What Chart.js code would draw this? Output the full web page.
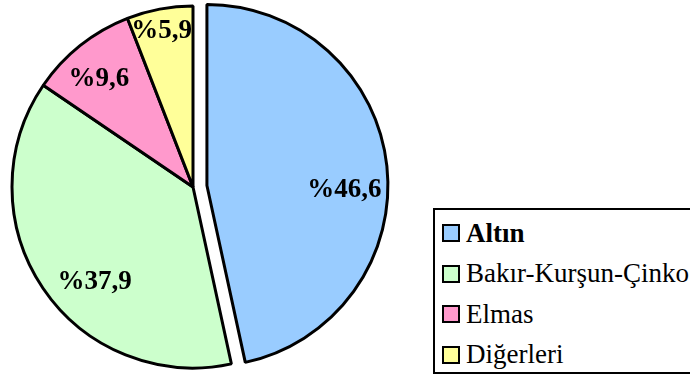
<!DOCTYPE html>
<html lang="tr">
<head>
<meta charset="utf-8">
<script src="https://cdn.jsdelivr.net/npm/chart.js@4.4.1/dist/chart.umd.min.js"></script>
<style>
  html, body { margin: 0; padding: 0; background: #fff; overflow: hidden; }
  #wrap { position: relative; width: 690px; height: 374px; overflow: hidden; }
  #pie { position: absolute; left: 0; top: 0; }
  #legend {
    position: absolute; left: 433px; top: 208px; width: 280px; height: 162px;
    border: 2px solid #000; box-sizing: content-box; background: #fff;
    font-family: "Liberation Serif", "Times New Roman", serif; font-size: 27px; color: #000;
  }
  #legend .row { position: absolute; left: 0; height: 40px; display: flex; align-items: center; white-space: nowrap; }
  #legend .box { width: 14px; height: 14px; border: 2px solid #000; margin-left: 7px; margin-right: 6px; flex: none; }
</style>
</head>
<body>
<div id="wrap">
  <canvas id="pie" width="690" height="374"></canvas>
  <div id="legend"></div>
</div>
<script>
// Maden üretim payları (%)
const categories = ['Altın', 'Bakır-Kurşun-Çinko', 'Elmas', 'Diğerleri'];
const shares = [46.6, 37.9, 9.6, 5.9];
const sliceColors = ['#99CCFF', '#CCFFCC', '#FF99CC', '#FFFF99'];

const fmt = v => '%' + v.toFixed(1).replace('.', ',');

// Moves selected slices outward along their mid angle (exploded pie look)
const explodePlugin = {
  id: 'explode',
  afterDatasetUpdate(chart, args, opts) {
    const meta = chart.getDatasetMeta(args.index);
    meta.data.forEach((arc, i) => {
      const d = (opts.distance || [])[i] || 0;
      if (!d || arc.$exploded) return;
      const baseDraw = arc.draw;
      arc.draw = function (ctx) {
        const mid = (this.startAngle + this.endAngle) / 2;
        ctx.save();
        ctx.translate(Math.cos(mid) * d, Math.sin(mid) * d);
        baseDraw.call(this, ctx);
        ctx.restore();
      };
      arc.$exploded = true;
    });
  }
};

// Percentage labels inside the slices
const sliceLabelPlugin = {
  id: 'sliceLabels',
  afterDatasetsDraw(chart, args, opts) {
    const ctx = chart.ctx;
    const meta = chart.getDatasetMeta(0);
    const explode = chart.options.plugins.explode.distance || [];
    ctx.save();
    ctx.font = opts.font;
    ctx.fillStyle = '#000';
    ctx.textAlign = 'center';
    ctx.textBaseline = 'middle';
    meta.data.forEach((arc, i) => {
      const p = arc.getProps(['x', 'y', 'startAngle', 'endAngle', 'outerRadius'], true);
      const mid = (p.startAngle + p.endAngle) / 2;
      const d = explode[i] || 0;
      const cx = p.x + Math.cos(mid) * d;
      const cy = p.y + Math.sin(mid) * d;
      const place = opts.place[i];
      const a = mid + place.turn * Math.PI / 180;
      const r = p.outerRadius * place.radius;
      ctx.fillText(fmt(shares[i]), cx + Math.cos(a) * r, cy + Math.sin(a) * r + 2);
    });
    ctx.restore();
  }
};

new Chart(document.getElementById('pie'), {
  type: 'pie',
  data: {
    labels: categories,
    datasets: [{
      data: shares,
      backgroundColor: sliceColors,
      borderColor: '#000',
      borderWidth: 3,
      radius: 181
    }]
  },
  options: {
    responsive: false,
    animation: false,
    layout: { padding: { left: 0, right: 304, top: 0, bottom: 0 } },
    plugins: {
      legend: { display: false },
      tooltip: { enabled: false },
      explode: { distance: [14, 0, 0, 0] },
      sliceLabels: {
        font: 'bold 27px "Liberation Serif", "Times New Roman", serif',
        place: [
          { turn: 7, radius: 0.76 },
          { turn: -9.5, radius: 0.75 },
          { turn: -2, radius: 0.80 },
          { turn: -0.6, radius: 0.89 }
        ]
      }
    }
  },
  plugins: [explodePlugin, sliceLabelPlugin]
});

// Legend built from the same categories and colours
const legend = document.getElementById('legend');
categories.forEach((name, i) => {
  const row = document.createElement('div');
  row.className = 'row';
  row.style.top = (3 + i * 40.5) + 'px';
  const box = document.createElement('span');
  box.className = 'box';
  box.style.background = sliceColors[i];
  const txt = document.createElement('span');
  txt.textContent = name;
  if (i === 0) txt.style.fontWeight = 'bold';
  row.appendChild(box);
  row.appendChild(txt);
  legend.appendChild(row);
});
</script>
</body>
</html>
